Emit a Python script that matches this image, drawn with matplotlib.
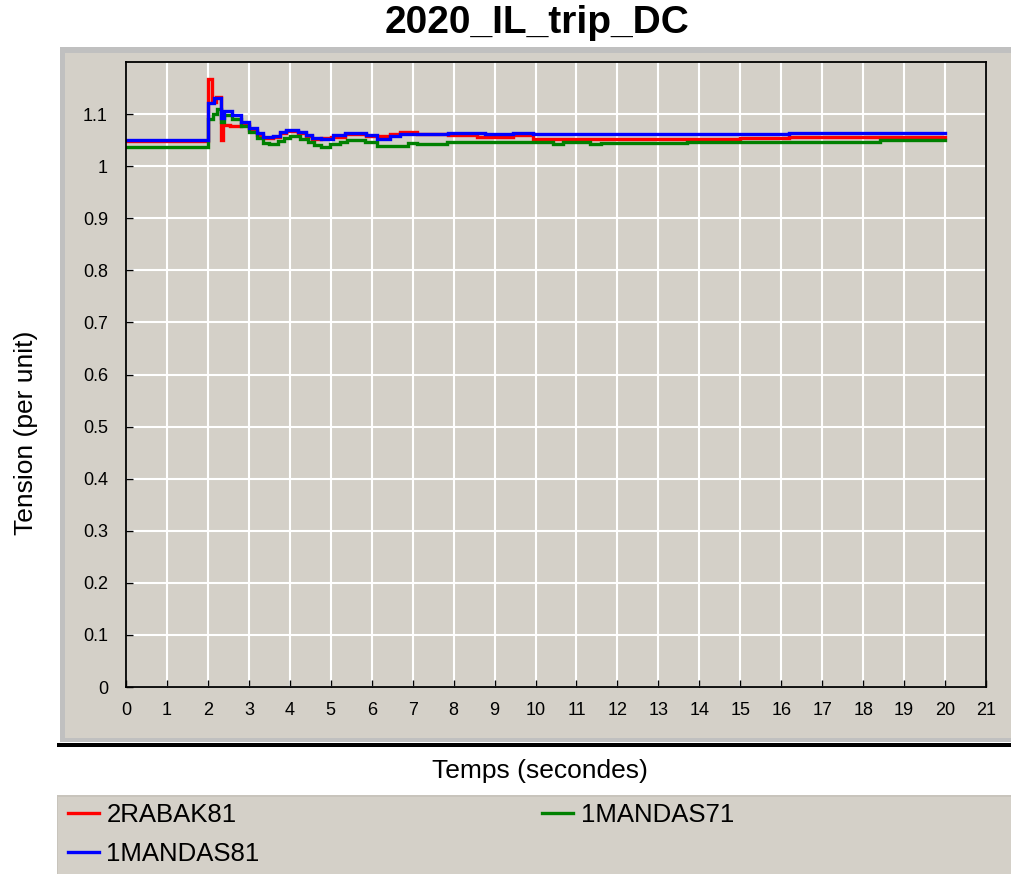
import matplotlib
matplotlib.use("Agg")
import matplotlib.pyplot as plt
import numpy as np
from matplotlib.patches import Rectangle
from matplotlib.lines import Line2D

# step series (time in s, voltage in pu), drawn as steps-post
t_red = [0, 2.0, 2.1, 2.2, 2.31, 2.37, 2.55, 2.8, 3.0, 3.2, 3.35, 3.6, 3.75, 3.9,
         4.2, 4.4, 4.55, 4.75, 5.0, 5.35, 5.85, 6.12, 6.45, 6.69, 7.1, 7.86,
         8.56, 9.46, 9.94, 15.0, 16.2, 20.0]
v_red = [1.048, 1.168, 1.124, 1.133, 1.050, 1.079, 1.078, 1.080, 1.070, 1.060,
         1.054, 1.056, 1.063, 1.068, 1.064, 1.058, 1.053, 1.054, 1.056, 1.062,
         1.058, 1.058, 1.061, 1.065, 1.061, 1.059, 1.056, 1.059, 1.053, 1.054,
         1.056, 1.056]

t_blue = [0, 2.0, 2.15, 2.31, 2.4, 2.6, 2.8, 3.0, 3.2, 3.35, 3.6, 3.75, 3.9,
          4.2, 4.4, 4.55, 4.75, 5.05, 5.35, 5.85, 6.12, 6.45, 6.69, 7.86, 8.77,
          9.46, 9.94, 16.2, 20.0]
v_blue = [1.050, 1.121, 1.130, 1.092, 1.105, 1.098, 1.085, 1.073, 1.063, 1.056,
          1.058, 1.065, 1.070, 1.066, 1.060, 1.055, 1.052, 1.059, 1.064, 1.059,
          1.053, 1.058, 1.061, 1.064, 1.061, 1.064, 1.061, 1.064, 1.064]

t_green = [0, 2.0, 2.12, 2.22, 2.31, 2.4, 2.6, 2.8, 3.0, 3.2, 3.35, 3.5, 3.7,
           3.85, 4.0, 4.25, 4.45, 4.6, 4.75, 4.98, 5.23, 5.39, 5.84, 6.12, 6.89,
           7.10, 7.83, 10.43, 10.67, 11.33, 11.6, 13.7, 18.4, 20.0]
v_green = [1.037, 1.090, 1.100, 1.110, 1.085, 1.098, 1.090, 1.078, 1.066, 1.054,
           1.045, 1.042, 1.048, 1.055, 1.058, 1.053, 1.046, 1.040, 1.037, 1.042,
           1.046, 1.051, 1.047, 1.039, 1.044, 1.043, 1.047, 1.043, 1.047, 1.043,
           1.044, 1.047, 1.051, 1.051]

series = [("2RABAK81", t_red, v_red, "#ff0000"),
          ("1MANDAS81", t_blue, v_blue, "#0000ff"),
          ("1MANDAS71", t_green, v_green, "#008000")]

W, H = 1011, 874
PANEL = "#d4d0c8"


def fx(x):
    return x / W


def fy(y):
    return 1 - y / H


def box(x0, y0, x1, y1, color):
    return Rectangle((fx(x0), fy(y1)), fx(x1) - fx(x0), fy(y0) - fy(y1),
                     transform=fig.transFigure, facecolor=color,
                     edgecolor="none", zorder=-5)


plt.rcParams["font.family"] = ["Liberation Sans", "DejaVu Sans"]

fig = plt.figure(figsize=(W / 100, H / 100), dpi=100, facecolor="white")

# grey chart panel with lighter border and black shadow below
fig.add_artist(box(60, 47, W, 742, "#c0c0c0"))
fig.add_artist(box(65, 53, W, 738, PANEL))
fig.add_artist(box(57, 743, W, 747, "black"))
# legend panel
fig.add_artist(box(57, 795, W, H, "#c8c4bc"))
fig.add_artist(box(58, 797, W, H, PANEL))

ax = fig.add_axes([fx(126), fy(687), fx(986) - fx(126), fy(62) - fy(687)])
ax.set_facecolor(PANEL)

order = [0, 2, 1]  # red, green, then blue on top
for i in order:
    name, t, v, c = series[i]
    ax.plot(t, v, drawstyle="steps-post", color=c, lw=2.4, label=name,
            solid_joinstyle="miter")

ax.set_xlim(0, 21)
ax.set_ylim(0, 1.2)
ax.set_xticks(range(0, 22))
yt = np.round(np.arange(0, 1.11, 0.1), 1)
ax.set_yticks(yt)
ax.set_yticklabels(["{:g}".format(v) for v in yt])
ax.grid(True, color="white", lw=1.5)
ax.set_axisbelow(True)
ax.tick_params(direction="in", length=5, width=1, color="black",
               labelsize=13)
ax.tick_params(axis="y", pad=13)
ax.tick_params(axis="x", pad=11)
for s in ax.spines.values():
    s.set_color("black")
    s.set_linewidth(1.3)

fig.text(fx(537), fy(23), "2020_IL_trip_DC", ha="center", va="center",
         fontsize=28, fontweight="bold")
fig.text(fx(540), fy(771), "Temps (secondes)", ha="center", va="center",
         fontsize=19)
fig.text(fx(26), fy(433), "Tension (per unit)", ha="center", va="center",
         fontsize=19, rotation=90)

handles = [Line2D([], [], color=c, lw=2.4) for _, _, _, c in series]
labels = [n for n, _, _, _ in series]
fig.legend(handles, labels, loc="upper left",
           bbox_to_anchor=(fx(60), fy(795)), ncol=2, frameon=False,
           fontsize=18.5, handlelength=1.2, handletextpad=0.3,
           labelspacing=0.58, columnspacing=11.0, borderpad=0.3,
           borderaxespad=0)

fig.savefig("out.png", dpi=100, facecolor="white")
